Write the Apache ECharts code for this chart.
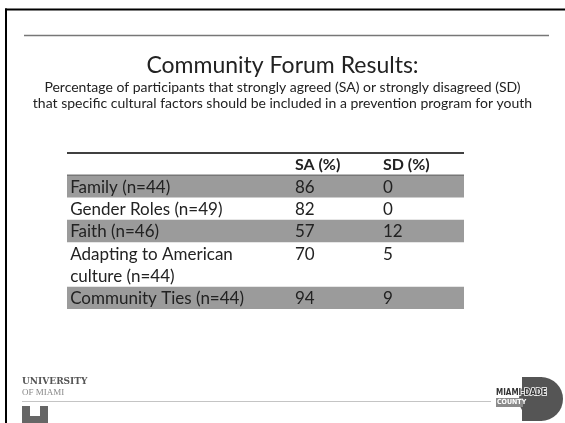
<!DOCTYPE html>
<html><head><meta charset="utf-8">
<script src="https://cdn.jsdelivr.net/npm/echarts@6/dist/echarts.min.js"></script>
<style>html,body{margin:0;padding:0;background:#fff}#c{width:565px;height:423px}</style>
</head><body><div id="c"></div>
<script>
// ---- data ----
const titleText = 'Community Forum Results:';
const subtitleLines = [
  'Percentage of participants that strongly agreed (SA) or strongly disagreed (SD)',
  'that specific cultural factors should be included in a prevention program for youth'
];
const columns = ['SA (%)', 'SD (%)'];
const categories = ['Family (n=44)', 'Gender Roles (n=49)', 'Faith (n=46)', 'Adapting to American\nculture (n=44)', 'Community Ties (n=44)'];
const saValues = [86, 82, 57, 70, 94];
const sdValues = [0, 0, 12, 5, 9];

// ---- build ----
const FONT = 'Lato, "Open Sans", sans-serif';
const colX = [0.8, 57.4, 79.6];
const rows = [];
let acc = 0;
categories.forEach((c, i) => {
  const n = c.split('\n').length;
  rows.push([acc, acc + n, i]);
  acc += n;
});

function txt(x, y, s, opts) {
  return { type: 'text', x: x, y: y, style: Object.assign({ text: s, fill: '#222', font: '17px ' + FONT, textVerticalAlign: 'middle' }, opts || {}) };
}

const chart = echarts.init(document.getElementById('c'), null, { renderer: 'canvas' });
chart.setOption({
  animation: false,
  backgroundColor: '#fff',
  title: [
    { text: titleText, left: 'center', top: 49, textStyle: { fontFamily: FONT, fontSize: 23, fontWeight: 'normal', color: '#222' } },
    { text: subtitleLines.join('\n'), left: 'center', top: 74, textStyle: { fontFamily: FONT, fontSize: 14, fontWeight: 'normal', color: '#222', lineHeight: 16, align: 'center' } }
  ],
  grid: { left: 67, right: 101, top: 153, bottom: 114 },
  xAxis: { type: 'value', min: 0, max: 100, show: false },
  yAxis: { type: 'value', min: -1, max: acc, inverse: true, show: false },
  series: [
    {
      type: 'custom',
      data: rows,
      renderItem: function (params, api) {
        const i = api.value(2);
        const p0 = api.coord([0, api.value(0)]);
        const p1 = api.coord([100, api.value(1)]);
        const unit = api.size([0, 1])[1];
        const children = [];
        if (i % 2 === 0) {
          children.push({ type: 'rect', shape: { x: p0[0], y: p0[1], width: p1[0] - p0[0], height: p1[1] - p0[1] }, style: { fill: '#9b9b9b' } });
        }
        const lines = categories[i].split('\n');
        lines.forEach((l, k) => {
          children.push(txt(api.coord([colX[0], 0])[0], p0[1] + (k + 0.5) * unit + 1, l));
        });
        children.push(txt(api.coord([colX[1], 0])[0], p0[1] + 0.5 * unit + 1, String(saValues[i])));
        children.push(txt(api.coord([colX[2], 0])[0], p0[1] + 0.5 * unit + 1, String(sdValues[i])));
        return { type: 'group', children: children };
      }
    },
    {
      type: 'custom',
      data: [[-1, 0]],
      renderItem: function (params, api) {
        const p0 = api.coord([0, api.value(0)]);
        const p1 = api.coord([100, api.value(1)]);
        return {
          type: 'group',
          children: [
            { type: 'line', shape: { x1: p0[0], y1: p0[1], x2: p1[0], y2: p0[1] }, style: { stroke: '#000', lineWidth: 1.5 } },
            { type: 'line', shape: { x1: p0[0], y1: p1[1], x2: p1[0], y2: p1[1] }, style: { stroke: '#777', lineWidth: 1.5 } },
            txt(api.coord([colX[1], 0])[0], (p0[1] + p1[1]) / 2 + 1, columns[0], { font: 'bold 16px ' + FONT }),
            txt(api.coord([colX[2], 0])[0], (p0[1] + p1[1]) / 2 + 1, columns[1], { font: 'bold 16px ' + FONT })
          ]
        };
      }
    }
  ],
  graphic: [
    { type: 'line', shape: { x1: 5, y1: 9.5, x2: 565, y2: 9.5 }, style: { stroke: '#000', lineWidth: 2 } },
    { type: 'line', shape: { x1: 6, y1: 8.5, x2: 6, y2: 423 }, style: { stroke: '#000', lineWidth: 2 } },
    { type: 'line', shape: { x1: 24, y1: 35.5, x2: 549, y2: 35.5 }, style: { stroke: '#777', lineWidth: 1.5 } },
    // University of Miami logo
    { type: 'text', x: 22, y: 382, style: { text: 'UNIVERSITY', font: 'bold 9px "DejaVu Serif", "Liberation Serif", serif', fill: '#555', textVerticalAlign: 'middle' } },
    { type: 'text', x: 22, y: 393, style: { text: 'OF MIAMI', font: '9px "Liberation Serif", serif', fill: '#888', textVerticalAlign: 'middle' } },
    { type: 'line', shape: { x1: 22, y1: 401.5, x2: 491, y2: 401.5 }, style: { stroke: '#c4c4c4', lineWidth: 1 } },
    { type: 'polygon', shape: { points: [[22, 406], [30, 406], [30, 416], [40, 416], [40, 406], [48, 406], [48, 423], [22, 423]] }, style: { fill: '#666' } },
    // Miami-Dade logo
    { type: 'circle', shape: { cx: 541, cy: 399, r: 22 }, style: { fill: '#555' } },
    { type: 'rect', shape: { x: 522, y: 377, width: 20, height: 44 }, style: { fill: '#555' } },
    { type: 'rect', shape: { x: 496, y: 398, width: 27, height: 9 }, style: { fill: '#8a8a8a' } },
    { type: 'text', x: 497, y: 402.5, style: { text: 'COUNTY', font: 'bold 7px "DejaVu Sans Condensed", sans-serif', fill: '#fff', textVerticalAlign: 'middle' } },
    { type: 'text', x: 496, y: 392.5, style: { text: 'MIAMI-DADE', font: 'bold 8px "DejaVu Sans Condensed", sans-serif', fill: '#333', stroke: '#fff', lineWidth: 1.5, textVerticalAlign: 'middle' } }
  ]
});
</script>
</body></html>
